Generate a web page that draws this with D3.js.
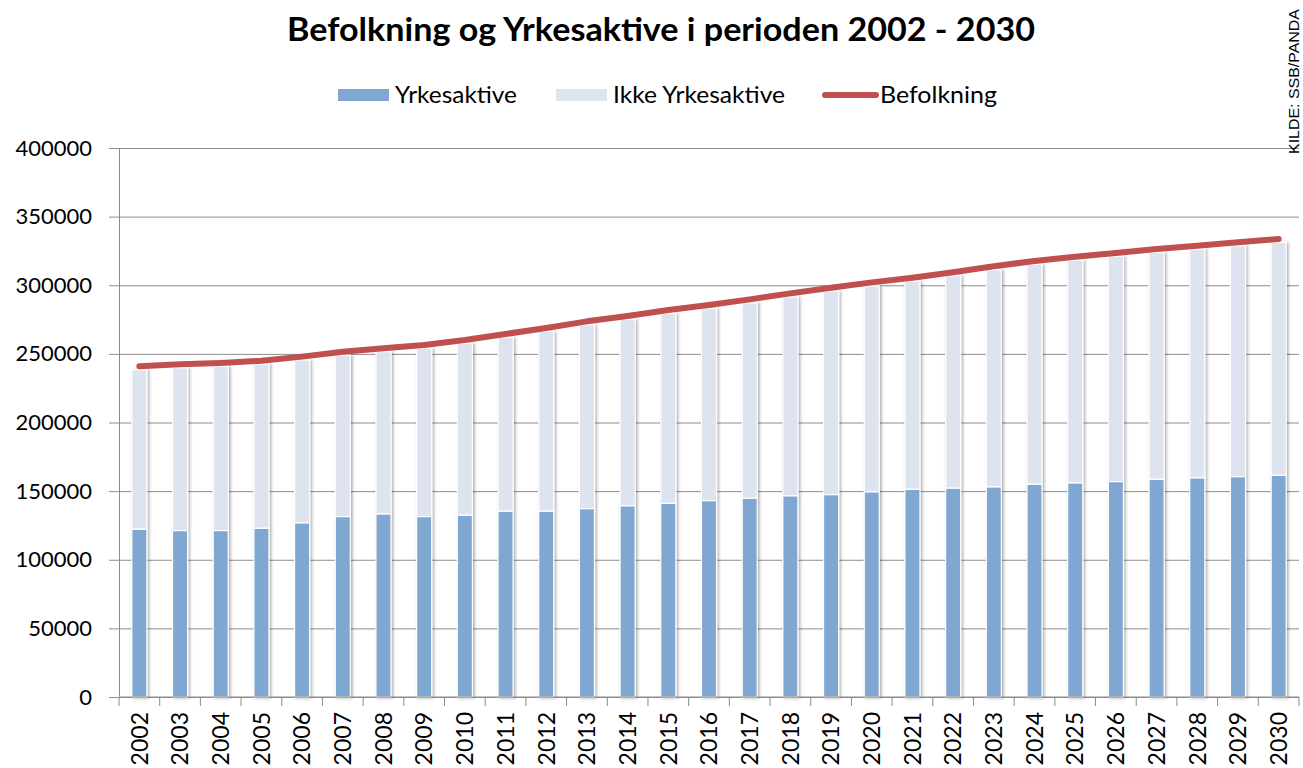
<!DOCTYPE html>
<html>
<head>
<meta charset="utf-8">
<script src="https://cdn.jsdelivr.net/npm/d3@7"></script>
<style>
  body { margin: 0; background: #fff; }
  svg { display: block; font-family: Lato, "Liberation Sans", sans-serif; }
</style>
</head>
<body>
<div id="chart"></div>
<script>
const years = ["2002", "2003", "2004", "2005", "2006", "2007", "2008", "2009", "2010", "2011",
  "2012", "2013", "2014", "2015", "2016", "2017", "2018", "2019", "2020", "2021",
  "2022", "2023", "2024", "2025", "2026", "2027", "2028", "2029", "2030"];

const yrkesaktive = [122200, 121200, 121200, 122900, 126800, 131400, 133300, 131400, 132400, 135300,
  135300, 137200, 139200, 141100, 143000, 144800, 146500, 147400, 149400, 151300,
  152100, 153000, 155000, 155900, 156900, 158600, 159600, 160500, 161500];

const ikkeYrkesaktive = [116300, 118700, 119700, 119600, 118700, 117700, 118300, 122600, 125200, 126700,
  131000, 134000, 135900, 138400, 140100, 142400, 145100, 148300, 150200, 151700,
  154800, 158300, 160200, 162400, 164100, 165300, 166700, 168300, 169700];

const befolkning = [241000, 242400, 243400, 245000, 248000, 251600, 254100, 256500, 260100, 264500,
  268800, 273700, 277600, 282000, 285600, 289700, 294100, 298200, 302100, 305500,
  309400, 313800, 317700, 320800, 323500, 326400, 328800, 331300, 333700];

const yTicks = [0, 50000, 100000, 150000, 200000, 250000, 300000, 350000, 400000];

const seriesNames = ["Yrkesaktive", "Ikke Yrkesaktive", "Befolkning"];

const W = 1303, H = 768;
const margin = { top: 148, right: 4, bottom: 71, left: 119 };
const width = W - margin.left - margin.right;
const height = H - margin.top - margin.bottom;

const colors = {
  yrk: "#80a6d2",
  ikke: "#dde4ef",
  bef: "#c0504d",
  grid: "#8c8c8c"
};

const svg = d3.select("#chart").append("svg")
  .attr("width", W)
  .attr("height", H);

// soft shadow like the original
const defs = svg.append("defs");
const shadow = defs.append("filter")
  .attr("id", "barShadow")
  .attr("x", "-50%").attr("y", "-5%")
  .attr("width", "200%").attr("height", "110%");
shadow.append("feDropShadow")
  .attr("dx", 1.5).attr("dy", 0.5)
  .attr("stdDeviation", 1.6)
  .attr("flood-color", "#000")
  .attr("flood-opacity", 0.35);

const g = svg.append("g")
  .attr("transform", `translate(${margin.left},${margin.top})`);

// Scales
const pad = 0.63;
const x = d3.scaleBand()
  .domain(years)
  .range([0, width])
  .paddingInner(pad)
  .paddingOuter(pad / 2);

const y = d3.scaleLinear()
  .domain([0, 400000])
  .range([height, 0]);

// Gridlines
g.append("g")
  .attr("class", "grid")
  .call(d3.axisLeft(y).tickValues(yTicks).tickSize(-width).tickFormat(""))
  .call(s => s.select(".domain").remove())
  .call(s => s.selectAll("line").attr("stroke", colors.grid).attr("stroke-width", 1));

// Stacked bars
const rows = years.map((yr, i) => ({ year: yr, yrk: yrkesaktive[i], ikke: ikkeYrkesaktive[i] }));

const cols = g.selectAll(".col")
  .data(rows)
  .enter()
  .append("g")
  .attr("class", "col")
  .attr("filter", "url(#barShadow)");

cols.append("rect")
  .attr("x", d => x(d.year))
  .attr("y", d => y(d.yrk + d.ikke))
  .attr("width", x.bandwidth())
  .attr("height", d => y(d.yrk) - y(d.yrk + d.ikke))
  .attr("fill", colors.ikke)
  .attr("stroke", "#fff")
  .attr("stroke-width", 1.2);

cols.append("rect")
  .attr("x", d => x(d.year))
  .attr("y", d => y(d.yrk))
  .attr("width", x.bandwidth())
  .attr("height", d => y(0) - y(d.yrk))
  .attr("fill", colors.yrk)
  .attr("stroke", "#fff")
  .attr("stroke-width", 1.2);

// Befolkning line
const line = d3.line()
  .x((d, i) => x(years[i]) + x.bandwidth() / 2)
  .y(d => y(d));

g.append("path")
  .datum(befolkning)
  .attr("d", line)
  .attr("fill", "none")
  .attr("stroke", colors.bef)
  .attr("stroke-width", 6)
  .attr("stroke-linecap", "round")
  .attr("stroke-linejoin", "round");

// Y axis
g.append("g")
  .call(d3.axisLeft(y).tickValues(yTicks).tickSize(10).tickPadding(17).tickFormat(d3.format("d")))
  .call(s => s.select(".domain").attr("stroke", colors.grid))
  .call(s => s.selectAll("line").attr("stroke", colors.grid))
  .call(s => s.selectAll("text")
    .attr("font-family", "Lato, sans-serif")
    .attr("font-size", "22px")
    .attr("fill", "#000"));

// X axis: baseline + ticks at category boundaries
const xAxis = g.append("g").attr("transform", `translate(0,${height})`);
xAxis.append("line")
  .attr("x1", 0).attr("x2", width)
  .attr("stroke", colors.grid);

const step = x.step();
xAxis.selectAll(".btick")
  .data(d3.range(years.length + 1))
  .enter()
  .append("line")
  .attr("x1", i => i * step)
  .attr("x2", i => i * step)
  .attr("y1", 0)
  .attr("y2", 9)
  .attr("stroke", colors.grid);

xAxis.selectAll(".xlabel")
  .data(years)
  .enter()
  .append("text")
  .attr("transform", d => `translate(${x(d) + x.bandwidth() / 2},15) rotate(-90)`)
  .attr("dy", "0.36em")
  .attr("text-anchor", "end")
  .attr("font-size", "23px")
  .attr("fill", "#000")
  .text(d => d);

// Title
svg.append("text")
  .attr("x", 661)
  .attr("y", 41)
  .attr("text-anchor", "middle")
  .attr("font-size", "33px")
  .attr("font-weight", "bold")
  .attr("fill", "#000")
  .attr("textLength", 748)
  .attr("lengthAdjust", "spacingAndGlyphs")
  .text("Befolkning og Yrkesaktive i perioden 2002 - 2030");

// Legend
const legend = svg.append("g").attr("transform", "translate(0,95)");
const legendItems = [
  { label: seriesNames[0], type: "rect", color: colors.yrk, x0: 338, tx: 395, len: 122 },
  { label: seriesNames[1], type: "rect", color: colors.ikke, x0: 556, tx: 613, len: 172 },
  { label: seriesNames[2], type: "line", color: colors.bef, x0: 823, tx: 880, len: 117 }
];

legendItems.forEach(item => {
  if (item.type === "rect") {
    legend.append("rect")
      .attr("x", item.x0)
      .attr("y", -6)
      .attr("width", 51)
      .attr("height", 12)
      .attr("fill", item.color);
  } else {
    legend.append("line")
      .attr("x1", item.x0 + 2)
      .attr("x2", item.x0 + 53)
      .attr("stroke", item.color)
      .attr("stroke-width", 6)
      .attr("stroke-linecap", "round");
  }
  legend.append("text")
    .attr("x", item.tx)
    .attr("y", 0)
    .attr("dy", "0.35em")
    .attr("font-size", "23px")
    .attr("fill", "#000")
    .attr("textLength", item.len)
    .attr("lengthAdjust", "spacingAndGlyphs")
    .text(item.label);
});

// Source
svg.append("text")
  .attr("transform", "translate(1299,154) rotate(-90)")
  .attr("font-family", "'Liberation Sans', Arial, sans-serif")
  .attr("font-size", "14px")
  .attr("fill", "#000")
  .attr("textLength", 145)
  .attr("lengthAdjust", "spacingAndGlyphs")
  .text("KILDE: SSB/PANDA");
</script>
</body>
</html>
